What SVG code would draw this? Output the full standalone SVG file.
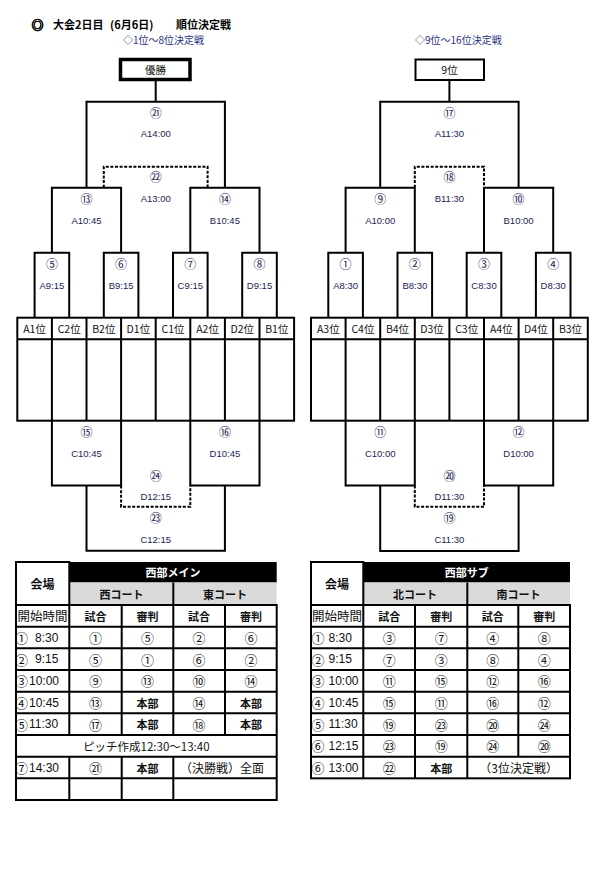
<svg xmlns="http://www.w3.org/2000/svg" width="598" height="882" viewBox="0 0 598 882">
<style>
.ln{fill:none;stroke:#000;stroke-width:2}
.dt{fill:none;stroke:#000;stroke-width:2;stroke-dasharray:3 1.6}
text{font-family:"Liberation Sans","Noto Sans CJK JP",sans-serif;text-anchor:middle;dominant-baseline:central;fill:#111}
.lb{font-size:9.5px;fill:#1c2456}
.cn{font-family:"Noto Sans CJK JP",sans-serif;font-size:12px;fill:#1c2456}
.hd{font-family:"Noto Sans CJK JP",sans-serif;font-size:10.5px;fill:#111}
.ti{font-family:"Noto Sans CJK JP",sans-serif;font-size:11px;font-weight:bold;text-anchor:start;fill:#000}
.sub{font-family:"Noto Sans CJK JP",sans-serif;font-size:10px;fill:#1f2f80;text-anchor:start}
.tj{font-family:"Noto Sans CJK JP",sans-serif;font-size:11px;font-weight:bold}
.tc{font-family:"Noto Sans CJK JP",sans-serif;font-size:11px}
.cc{font-family:"Noto Sans CJK JP",sans-serif;font-size:13px}
.tn{font-size:12px;text-anchor:start}
.tl{font-family:"Noto Sans CJK JP",sans-serif;font-size:13px;text-anchor:start}
.cell{fill:#fff;stroke:#000;stroke-width:2}
</style>

<g id="title">
<text class="ti" x="31.5" y="24" style="font-size:12px;stroke:#000;stroke-width:0.7">◎</text>
<text class="ti" x="53" y="24">大会2日目</text>
<text class="ti" x="110" y="24">(6月6日)</text>
<text class="ti" x="176" y="24">順位決定戦</text>
<text class="sub" x="123" y="39.5">◇1位～8位決定戦</text>
<text class="sub" x="415" y="39.5">◇9位～16位決定戦</text>
</g>

<g id="winner">
<rect x="120.5" y="59.5" width="69.5" height="20" fill="#fff" stroke="#000" stroke-width="3.5"/>
<text class="hd" x="155.5" y="69.5">優勝</text>
</g>
<g id="ninth">
<rect x="415.5" y="59.5" width="68.5" height="20.5" fill="#fff" stroke="#000" stroke-width="2"/>
<text class="hd" x="449.5" y="69.8">9位</text>
</g>

<g id="connectors">
<path class="ln" d="M155.7,81 V101.7"/>
<path class="ln" d="M449.4,80.5 V101.7"/>
</g>

<!-- Left upper bracket -->
<g id="m21"><path class="ln" d="M86.5,187.7 V101.7 H224.9 V187.7"/><text class="cn" x="155.7" y="112.3">㉑</text><text class="lb" x="155.7" y="133.3">A14:00</text></g>
<g id="m22"><path class="dt" d="M103.8,187.7 V166.7 H207.6 V187.7"/><text class="cn" x="155.7" y="176.7">㉒</text><text class="lb" x="155.7" y="198.7">A13:00</text></g>
<g id="m13"><path class="ln" d="M51.9,252.7 V187.7 H121.1 V252.7"/><text class="cn" x="86.5" y="198.3">⑬</text><text class="lb" x="86.5" y="220">A10:45</text></g>
<g id="m14"><path class="ln" d="M190.3,252.7 V187.7 H259.5 V252.7"/><text class="cn" x="224.9" y="198.3">⑭</text><text class="lb" x="224.9" y="220">B10:45</text></g>
<g id="m5"><path class="ln" d="M34.6,317.7 V252.7 H69.2 V317.7"/><text class="cn" x="51.9" y="263.3">⑤</text><text class="lb" x="51.9" y="285">A9:15</text></g>
<g id="m6"><path class="ln" d="M103.8,317.7 V252.7 H138.4 V317.7"/><text class="cn" x="121.1" y="263.3">⑥</text><text class="lb" x="121.1" y="285">B9:15</text></g>
<g id="m7"><path class="ln" d="M173,317.7 V252.7 H207.6 V317.7"/><text class="cn" x="190.3" y="263.3">⑦</text><text class="lb" x="190.3" y="285">C9:15</text></g>
<g id="m8"><path class="ln" d="M242.2,317.7 V252.7 H276.8 V317.7"/><text class="cn" x="259.5" y="263.3">⑧</text><text class="lb" x="259.5" y="285">D9:15</text></g>

<g id="grid-left">
<rect class="ln" x="17.3" y="317.7" width="276.8" height="103"/>
<path class="ln" d="M17.3,339.3 H294.1 M51.9,317.7 V420.7 M86.5,317.7 V420.7 M121.1,317.7 V420.7 M155.7,317.7 V420.7 M190.3,317.7 V420.7 M224.9,317.7 V420.7 M259.5,317.7 V420.7"/>
<text class="hd" x="34.6" y="328.5">A1位</text>
<text class="hd" x="69.2" y="328.5">C2位</text>
<text class="hd" x="103.8" y="328.5">B2位</text>
<text class="hd" x="138.4" y="328.5">D1位</text>
<text class="hd" x="173" y="328.5">C1位</text>
<text class="hd" x="207.6" y="328.5">A2位</text>
<text class="hd" x="242.2" y="328.5">D2位</text>
<text class="hd" x="276.8" y="328.5">B1位</text>
</g>

<!-- Left lower bracket -->
<g id="m15"><path class="ln" d="M51.9,420.7 V485.6 H121.1 V420.7"/><text class="cn" x="86.5" y="431.7">⑮</text><text class="lb" x="86.5" y="453">C10:45</text></g>
<g id="m16"><path class="ln" d="M190.3,420.7 V485.6 H259.5 V420.7"/><text class="cn" x="224.9" y="431.7">⑯</text><text class="lb" x="224.9" y="453">D10:45</text></g>
<g id="m24"><path class="dt" d="M121.1,485.6 V506.7 H190.3 V485.6"/><text class="cn" x="155.7" y="475">㉔</text><text class="lb" x="155.7" y="496.7">D12:15</text></g>
<g id="m23"><path class="ln" d="M86.5,485.6 V550.8 H224.9 V485.6"/><text class="cn" x="155.7" y="517.7">㉓</text><text class="lb" x="155.7" y="539.3">C12:15</text></g>

<!-- Right upper bracket -->
<g id="m17"><path class="ln" d="M380.2,187.7 V101.7 H518.6 V187.7"/><text class="cn" x="449.4" y="112.3">⑰</text><text class="lb" x="449.4" y="133.3">A11:30</text></g>
<g id="m18"><path class="dt" d="M414.8,187.7 V166.7 H484 V187.7"/><text class="cn" x="449.4" y="176.7">⑱</text><text class="lb" x="449.4" y="198.7">B11:30</text></g>
<g id="m9"><path class="ln" d="M345.6,252.7 V187.7 H414.8 V252.7"/><text class="cn" x="380.2" y="198.3">⑨</text><text class="lb" x="380.2" y="220">A10:00</text></g>
<g id="m10"><path class="ln" d="M484,252.7 V187.7 H553.2 V252.7"/><text class="cn" x="518.6" y="198.3">⑩</text><text class="lb" x="518.6" y="220">B10:00</text></g>
<g id="m1"><path class="ln" d="M328.3,317.7 V252.7 H362.9 V317.7"/><text class="cn" x="345.6" y="263.3">①</text><text class="lb" x="345.6" y="285">A8:30</text></g>
<g id="m2"><path class="ln" d="M397.5,317.7 V252.7 H432.1 V317.7"/><text class="cn" x="414.8" y="263.3">②</text><text class="lb" x="414.8" y="285">B8:30</text></g>
<g id="m3"><path class="ln" d="M466.7,317.7 V252.7 H501.3 V317.7"/><text class="cn" x="484" y="263.3">③</text><text class="lb" x="484" y="285">C8:30</text></g>
<g id="m4"><path class="ln" d="M535.9,317.7 V252.7 H570.5 V317.7"/><text class="cn" x="553.2" y="263.3">④</text><text class="lb" x="553.2" y="285">D8:30</text></g>

<g id="grid-right">
<rect class="ln" x="311" y="317.7" width="276.8" height="103"/>
<path class="ln" d="M311,339.3 H587.8 M345.6,317.7 V420.7 M380.2,317.7 V420.7 M414.8,317.7 V420.7 M449.4,317.7 V420.7 M484,317.7 V420.7 M518.6,317.7 V420.7 M553.2,317.7 V420.7"/>
<text class="hd" x="328.3" y="328.5">A3位</text>
<text class="hd" x="362.9" y="328.5">C4位</text>
<text class="hd" x="397.5" y="328.5">B4位</text>
<text class="hd" x="432.1" y="328.5">D3位</text>
<text class="hd" x="466.7" y="328.5">C3位</text>
<text class="hd" x="501.3" y="328.5">A4位</text>
<text class="hd" x="535.9" y="328.5">D4位</text>
<text class="hd" x="570.5" y="328.5">B3位</text>
</g>

<!-- Right lower bracket -->
<g id="m11"><path class="ln" d="M345.6,420.7 V485.4 H414.8 V420.7"/><text class="cn" x="380.2" y="431.3">⑪</text><text class="lb" x="380.2" y="453">C10:00</text></g>
<g id="m12"><path class="ln" d="M484,420.7 V485.4 H553.2 V420.7"/><text class="cn" x="518.6" y="431.3">⑫</text><text class="lb" x="518.6" y="453">D10:00</text></g>
<g id="m20"><path class="dt" d="M414.8,485.4 V506.7 H484 V485.4"/><text class="cn" x="449.4" y="475">⑳</text><text class="lb" x="449.4" y="496.7">D11:30</text></g>
<g id="m19"><path class="ln" d="M380.2,485.4 V551 H518.6 V485.4"/><text class="cn" x="449.4" y="517.7">⑲</text><text class="lb" x="449.4" y="539.3">C11:30</text></g>

<!-- Left table -->
<g id="table-left">
<rect x="69.3" y="562" width="207.4" height="20.5" fill="#000"/>
<rect x="69.3" y="582.5" width="207.4" height="22.5" fill="#d9d9d9"/>
<rect class="cell" x="16" y="562" width="53.3" height="43"/>
<path class="ln" d="M173.3,582.5 V605"/>
<rect class="ln" x="16" y="605" width="260.7" height="195"/>
<path class="ln" d="M16,626.67 H276.7 M16,648.33 H276.7 M16,670 H276.7 M16,691.67 H276.7 M16,713.33 H276.7 M16,735 H276.7 M16,756.67 H276.7 M16,778.33 H276.7"/>
<path class="ln" d="M69.3,605 V735 M121.7,605 V735 M173.3,605 V735 M225,605 V735 M69.3,756.67 V800 M121.7,756.67 V800 M173.3,756.67 V800"/>
<text class="tj" x="42.6" y="583.5" style="font-size:12px">会場</text>
<text class="tj" x="173" y="572.3" style="fill:#fff">西部メイン</text>
<text class="tj" x="121.5" y="593.8">西コート</text>
<text class="tj" x="225" y="593.8">東コート</text>
<text class="tc" x="42.6" y="615.8" style="font-size:12.5px">開始時間</text>
<text class="tj" x="95.5" y="615.8">試合</text>
<text class="tj" x="147.5" y="615.8">審判</text>
<text class="tj" x="199" y="615.8">試合</text>
<text class="tj" x="251" y="615.8">審判</text>
<g>
<text class="tl" x="15" y="637.5">①</text><text class="tn" x="35" y="637.5">8:30</text>
<text class="tl" x="15" y="659.2">②</text><text class="tn" x="35" y="659.2">9:15</text>
<text class="tl" x="15" y="680.8">③</text><text class="tn" x="29" y="680.8">10:00</text>
<text class="tl" x="15" y="702.5">④</text><text class="tn" x="29" y="702.5">10:45</text>
<text class="tl" x="15" y="724.2">⑤</text><text class="tn" x="29" y="724.2">11:30</text>
<text class="tl" x="15" y="767.5">⑦</text><text class="tn" x="29" y="767.5">14:30</text>
</g>
<g class="vals">
<text class="cc" x="95.5" y="637.5">①</text><text class="cc" x="147.5" y="637.5">⑤</text><text class="cc" x="199" y="637.5">②</text><text class="cc" x="251" y="637.5">⑥</text>
<text class="cc" x="95.5" y="659.2">⑤</text><text class="cc" x="147.5" y="659.2">①</text><text class="cc" x="199" y="659.2">⑥</text><text class="cc" x="251" y="659.2">②</text>
<text class="cc" x="95.5" y="680.8">⑨</text><text class="cc" x="147.5" y="680.8">⑬</text><text class="cc" x="199" y="680.8">⑩</text><text class="cc" x="251" y="680.8">⑭</text>
<text class="cc" x="95.5" y="702.5">⑬</text><text class="tj" x="147.5" y="702.5">本部</text><text class="cc" x="199" y="702.5">⑭</text><text class="tj" x="251" y="702.5">本部</text>
<text class="cc" x="95.5" y="724.2">⑰</text><text class="tj" x="147.5" y="724.2">本部</text><text class="cc" x="199" y="724.2">⑱</text><text class="tj" x="251" y="724.2">本部</text>
<text class="tc" x="146.3" y="745.8" style="font-size:11.5px">ピッチ作成12:30～13:40</text>
<text class="cc" x="95.5" y="767.5">㉑</text><text class="tj" x="147.5" y="767.5">本部</text><text class="tc" x="222" y="767.5" style="font-size:12px">（決勝戦）全面</text>
</g>
</g>

<!-- Right table -->
<g id="table-right">
<rect x="363.3" y="562" width="206.7" height="20.5" fill="#000"/>
<rect x="363.3" y="582.5" width="206.7" height="22.5" fill="#d9d9d9"/>
<rect class="cell" x="311" y="562" width="52.3" height="43"/>
<path class="ln" d="M467.3,582.5 V605"/>
<rect class="ln" x="311" y="605" width="259" height="173.33"/>
<path class="ln" d="M311,626.67 H570 M311,648.33 H570 M311,670 H570 M311,691.67 H570 M311,713.33 H570 M311,735 H570 M311,756.67 H570"/>
<path class="ln" d="M363.3,605 V778.33 M415,605 V778.33 M467.3,605 V778.33 M518.3,605 V756.67"/>
<text class="tj" x="337" y="583.5" style="font-size:12px">会場</text>
<text class="tj" x="466.7" y="572.3" style="fill:#fff">西部サブ</text>
<text class="tj" x="415" y="593.8">北コート</text>
<text class="tj" x="518.6" y="593.8">南コート</text>
<text class="tc" x="337" y="615.8" style="font-size:12.5px">開始時間</text>
<text class="tj" x="389.2" y="615.8">試合</text>
<text class="tj" x="441.2" y="615.8">審判</text>
<text class="tj" x="492.8" y="615.8">試合</text>
<text class="tj" x="544.2" y="615.8">審判</text>
<g>
<text class="tl" x="311.5" y="637.5">①</text><text class="tn" x="328.5" y="637.5">8:30</text>
<text class="tl" x="311.5" y="659.2">②</text><text class="tn" x="328.5" y="659.2">9:15</text>
<text class="tl" x="311.5" y="680.8">③</text><text class="tn" x="328.5" y="680.8">10:00</text>
<text class="tl" x="311.5" y="702.5">④</text><text class="tn" x="328.5" y="702.5">10:45</text>
<text class="tl" x="311.5" y="724.2">⑤</text><text class="tn" x="328.5" y="724.2">11:30</text>
<text class="tl" x="311.5" y="745.8">⑥</text><text class="tn" x="328.5" y="745.8">12:15</text>
<text class="tl" x="311.5" y="767.5">⑥</text><text class="tn" x="328.5" y="767.5">13:00</text>
</g>
<g class="vals">
<text class="cc" x="389.2" y="637.5">③</text><text class="cc" x="441.2" y="637.5">⑦</text><text class="cc" x="492.8" y="637.5">④</text><text class="cc" x="544.2" y="637.5">⑧</text>
<text class="cc" x="389.2" y="659.2">⑦</text><text class="cc" x="441.2" y="659.2">③</text><text class="cc" x="492.8" y="659.2">⑧</text><text class="cc" x="544.2" y="659.2">④</text>
<text class="cc" x="389.2" y="680.8">⑪</text><text class="cc" x="441.2" y="680.8">⑮</text><text class="cc" x="492.8" y="680.8">⑫</text><text class="cc" x="544.2" y="680.8">⑯</text>
<text class="cc" x="389.2" y="702.5">⑮</text><text class="cc" x="441.2" y="702.5">⑪</text><text class="cc" x="492.8" y="702.5">⑯</text><text class="cc" x="544.2" y="702.5">⑫</text>
<text class="cc" x="389.2" y="724.2">⑲</text><text class="cc" x="441.2" y="724.2">㉓</text><text class="cc" x="492.8" y="724.2">⑳</text><text class="cc" x="544.2" y="724.2">㉔</text>
<text class="cc" x="389.2" y="745.8">㉓</text><text class="cc" x="441.2" y="745.8">⑲</text><text class="cc" x="492.8" y="745.8">㉔</text><text class="cc" x="544.2" y="745.8">⑳</text>
<text class="cc" x="389.2" y="767.5">㉒</text><text class="tj" x="441.2" y="767.5">本部</text><text class="tc" x="518.6" y="767.5" style="font-size:12px">（3位決定戦）</text>
</g>
</g>
</svg>
